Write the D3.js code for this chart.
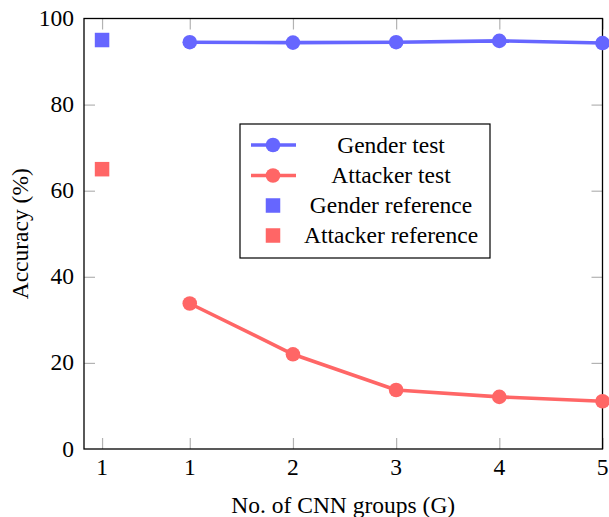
<!DOCTYPE html>
<html>
<head>
<meta charset="utf-8">
<script src="https://cdn.jsdelivr.net/npm/d3@7"></script>
<style>
  html, body { margin: 0; padding: 0; background: #fff; }
</style>
</head>
<body>
<svg id="chart" width="609" height="517"></svg>
<script>
// ---- data ----
const groups = [1, 2, 3, 4, 5];
const genderTest = [94.5, 94.4, 94.5, 94.8, 94.3];
const attackerTest = [33.8, 22.0, 13.7, 12.1, 11.1];
const referencePos = 0.15;          // x position of the reference column
const genderReference = 95.0;
const attackerReference = 65.0;
const xTickValues = [0.15, 1, 2, 3, 4, 5];
const xTickLabels = ["1", "1", "2", "3", "4", "5"];
const yTickValues = [0, 20, 40, 60, 80, 100];
const legendLabels = ["Gender test", "Attacker test", "Gender reference", "Attacker reference"];

// ---- layout ----
const W = 609, H = 517;
const m = { left: 84, right: 6.5, top: 18.5, bottom: 68 };
const iw = W - m.left - m.right, ih = H - m.top - m.bottom;
const blue = "#6666ff", red = "#ff6666";
const fs = 23.5;
const FONT = "'Liberation Serif', 'Times New Roman', Times, 'DejaVu Serif', serif";

const svg = d3.select("#chart").attr("font-family", FONT);
const g = svg.append("g").attr("transform", `translate(${m.left},${m.top})`);

const x = d3.scaleLinear().domain([-0.025, 5]).range([0, iw]);
const y = d3.scaleLinear().domain([0, 100]).range([ih, 0]);

const tickLen = 11, tickColor = "#b3b3b3";

// ticks (inside, mirrored)
const axB = d3.axisBottom(x).tickValues(xTickValues).tickSize(-tickLen).tickFormat("");
const axT = d3.axisTop(x).tickValues(xTickValues).tickSize(-tickLen).tickFormat("");
const axL = d3.axisLeft(y).tickValues(yTickValues.slice(1, -1)).tickSize(-tickLen).tickFormat("");
const axR = d3.axisRight(y).tickValues(yTickValues.slice(1, -1)).tickSize(-tickLen).tickFormat("");
function styleAxis(sel) {
  sel.attr("font-family", null).attr("font-size", null);
  sel.select(".domain").remove();
  sel.selectAll(".tick line").attr("stroke", tickColor).attr("stroke-width", 1.2);
}
g.append("g").attr("transform", `translate(0,${ih})`).call(axB).call(styleAxis);
g.append("g").call(axT).call(styleAxis);
g.append("g").call(axL).call(styleAxis);
g.append("g").attr("transform", `translate(${iw},0)`).call(axR).call(styleAxis);

function txt(sel) { return sel.attr("font-family", FONT).attr("font-size", fs).attr("fill", "#000"); }

// tick labels
g.append("g").selectAll("text").data(xTickValues).join("text")
  .attr("x", d => x(d)).attr("y", ih + 26)
  .attr("text-anchor", "middle").call(txt)
  .text((d, i) => xTickLabels[i]);
g.append("g").selectAll("text").data(yTickValues).join("text")
  .attr("x", -10).attr("y", d => y(d)).attr("dy", "0.32em")
  .attr("text-anchor", "end").call(txt)
  .text(d => d);

// frame
g.append("rect").attr("width", iw).attr("height", ih)
  .attr("fill", "none").attr("stroke", "#000").attr("stroke-width", 1.3);

// axis labels
svg.append("text").attr("x", m.left + iw / 2).attr("y", 513)
  .attr("text-anchor", "middle").call(txt).text("No. of CNN groups (G)");
svg.append("text").attr("transform", `translate(28,${m.top + ih / 2}) rotate(-90)`)
  .attr("text-anchor", "middle").call(txt).text("Accuracy (%)");

// lines
const line = d3.line().x((d, i) => x(groups[i])).y(d => y(d));
function series(vals, color) {
  g.append("path").datum(vals).attr("d", line)
    .attr("fill", "none").attr("stroke", color).attr("stroke-width", 3.6)
    .attr("stroke-linejoin", "round");
  g.append("g").selectAll("circle").data(vals).join("circle")
    .attr("cx", (d, i) => x(groups[i])).attr("cy", d => y(d)).attr("r", 7.3)
    .attr("fill", color);
}
series(genderTest, blue);
series(attackerTest, red);

// reference squares
const sq = 14.5;
[[genderReference, blue], [attackerReference, red]].forEach(([v, c]) => {
  g.append("rect").attr("x", x(referencePos) - sq / 2).attr("y", y(v) - sq / 2)
    .attr("width", sq).attr("height", sq).attr("fill", c);
});

// legend
const lg = svg.append("g");
lg.append("rect").attr("x", 240).attr("y", 124).attr("width", 250).attr("height", 134)
  .attr("fill", "#fff").attr("stroke", "#000").attr("stroke-width", 1.2);
const rowY = [145, 175.5, 205.5, 235.5];
legendLabels.forEach((lab, i) => {
  const cy = rowY[i];
  const c = (i % 2 === 0) ? blue : red;
  if (i < 2) {
    lg.append("line").attr("x1", 251).attr("x2", 296).attr("y1", cy).attr("y2", cy)
      .attr("stroke", c).attr("stroke-width", 3.6);
    lg.append("circle").attr("cx", 273).attr("cy", cy).attr("r", 7.3).attr("fill", c);
  } else {
    lg.append("rect").attr("x", 273 - sq / 2).attr("y", cy - sq / 2)
      .attr("width", sq).attr("height", sq).attr("fill", c);
  }
  lg.append("text").attr("x", 391).attr("y", cy + 7.5)
    .attr("text-anchor", "middle").call(txt).text(lab);
});
</script>
</body>
</html>
